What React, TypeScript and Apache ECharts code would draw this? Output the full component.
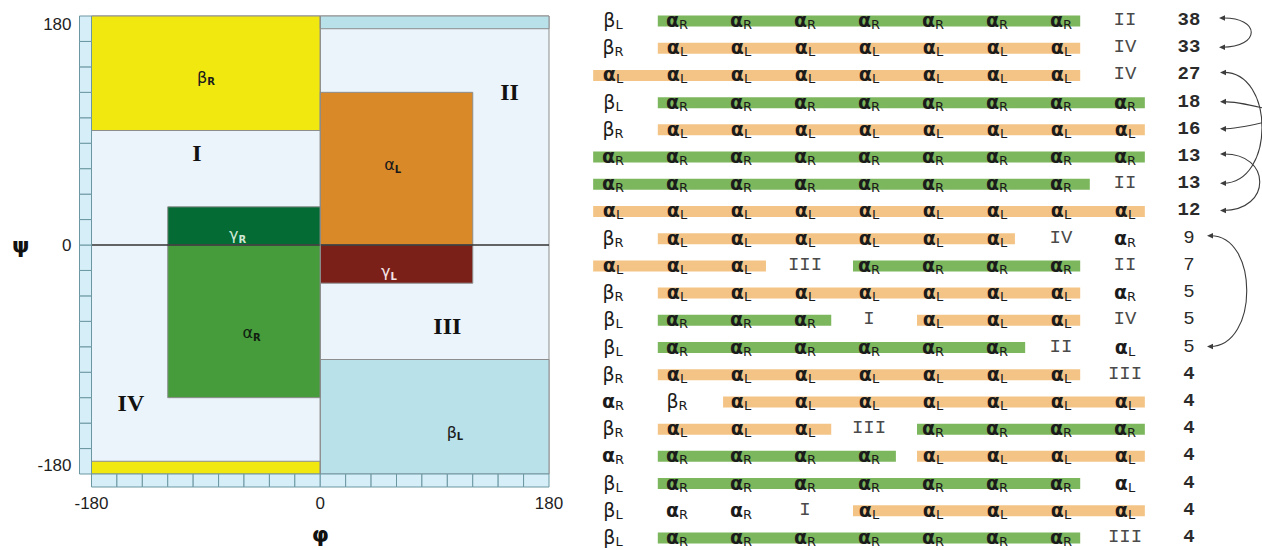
import React, { useEffect, useRef } from "react";
import * as echarts from "echarts";

// ---------------- Left panel: (phi, psi) regions ----------------
const regionNames = ["background", "βR", "βR wrap", "βL wrap", "βL", "αL", "γL", "γR", "αR"];
const regionPhiStart = [-180, -180, -180, 0, 0, 0, 0, -120, -120];
const regionPhiEnd = [180, 0, 0, 180, 180, 120, 120, 0, 0];
const regionPsiStart = [-180, 90, -180, 170, -180, 0, -30, 0, -120];
const regionPsiEnd = [180, 180, -170, 180, -90, 120, 0, 30, 0];

const regionLabels = ["βR", "I", "II", "αL", "γR", "γL", "III", "αR", "IV", "βL"];
const labelPhi = [-90, -97, 149, 57, -65, 54, 100, -54, -149, 106];
const labelPsi = [132, 72, 120, 63, 8, -21, -64, -69, -124, -147];

const axisTicks = [-180, 0, 180];
const rulerStarts = [-180, -160, -140, -120, -100, -80, -60, -40, -20, 0, 20, 40, 60, 80, 100, 120, 140, 160];
const rulerStep = 20;

// ---------------- Right panel: sequences ----------------
const rowCells: string[][] = [
  ["βL", "αR", "αR", "αR", "αR", "αR", "αR", "αR", "II"],
  ["βR", "αL", "αL", "αL", "αL", "αL", "αL", "αL", "IV"],
  ["αL", "αL", "αL", "αL", "αL", "αL", "αL", "αL", "IV"],
  ["βL", "αR", "αR", "αR", "αR", "αR", "αR", "αR", "αR"],
  ["βR", "αL", "αL", "αL", "αL", "αL", "αL", "αL", "αL"],
  ["αR", "αR", "αR", "αR", "αR", "αR", "αR", "αR", "αR"],
  ["αR", "αR", "αR", "αR", "αR", "αR", "αR", "αR", "II"],
  ["αL", "αL", "αL", "αL", "αL", "αL", "αL", "αL", "αL"],
  ["βR", "αL", "αL", "αL", "αL", "αL", "αL", "IV", "αR"],
  ["αL", "αL", "αL", "III", "αR", "αR", "αR", "αR", "II"],
  ["βR", "αL", "αL", "αL", "αL", "αL", "αL", "αL", "αR"],
  ["βL", "αR", "αR", "αR", "I", "αL", "αL", "αL", "IV"],
  ["βL", "αR", "αR", "αR", "αR", "αR", "αR", "II", "αL"],
  ["βR", "αL", "αL", "αL", "αL", "αL", "αL", "αL", "III"],
  ["αR", "βR", "αL", "αL", "αL", "αL", "αL", "αL", "αL"],
  ["βR", "αL", "αL", "αL", "III", "αR", "αR", "αR", "αR"],
  ["αR", "αR", "αR", "αR", "αR", "αL", "αL", "αL", "αL"],
  ["βL", "αR", "αR", "αR", "αR", "αR", "αR", "αR", "αL"],
  ["βL", "αR", "αR", "I", "αL", "αL", "αL", "αL", "αL"],
  ["βL", "αR", "αR", "αR", "αR", "αR", "αR", "αR", "III"],
];
const rowCounts = [38, 33, 27, 18, 16, 13, 13, 12, 9, 7, 5, 5, 5, 4, 4, 4, 4, 4, 4, 4];

// bar segments: row, start column, end column, kind ("αR" green, "αL" orange)
const barRows = [0, 1, 2, 3, 4, 5, 6, 7, 8, 9, 9, 10, 11, 11, 12, 13, 14, 15, 15, 16, 16, 17, 18, 19];
const barStart = [0.7, 0.7, -0.31, 0.7, 0.7, -0.31, -0.31, -0.31, 0.7, -0.31, 3.75, 0.7, 0.7, 4.75, 0.7, 0.7, 1.72, 0.7, 4.75, 0.7, 4.75, 0.7, 3.75, 0.7];
const barEnd = [7.3, 7.3, 7.3, 8.31, 8.31, 8.31, 7.45, 8.31, 6.28, 2.39, 7.3, 7.3, 3.41, 7.3, 6.44, 7.3, 8.31, 3.41, 8.31, 4.42, 8.31, 7.3, 8.31, 7.3];
const barKind = ["αR", "αL", "αL", "αR", "αL", "αR", "αR", "αL", "αL", "αL", "αR", "αL", "αR", "αL", "αR", "αL", "αL", "αL", "αR", "αR", "αL", "αR", "αL", "αR"];

// links between counts (from row, to row)
const linkFrom = [0, 2, 5, 8];
const linkTo = [1, 6, 7, 12];
const outgoingRows = [3, 4];

// ---------------- styles ----------------
const regionColors = ["#eaf4fa", "#f1e80f", "#f1e80f", "#b8e1ea", "#b8e1ea", "#d98928", "#7b1f19", "#046b35", "#469b3b"];
const labelColors = ["#1a1a1a", "#111", "#111", "#1a1a1a", "#cfe8d4", "#f4e6e6", "#111", "#102010", "#111", "#1a1a1a"];
const barColors: Record<string, string> = { "αR": "#7cb65d", "αL": "#f3c486" };
const linkTipOffset = [30, 31, 31, 18];
const linkBulge = [42, 55, 52, 52];
const GREEK = "'DejaVu Sans', sans-serif";
const MONO = "'Liberation Mono', 'DejaVu Sans Mono', monospace";

const isGreek = (t: string) => /^[αβγ]/.test(t);
const greekRich = (t: string) => `{g|${t[0]}}{s|${t.slice(1)}}`;

const cellList: { col: number; row: number; tok: string }[] = [];
rowCells.forEach((cells, r) => {
  cells.forEach((tok, c) => {
    if (tok) cellList.push({ col: c, row: r, tok });
  });
  cellList.push({ col: 9, row: r, tok: String(rowCounts[r]) });
});

function buildOption(): any {
  const hiddenAxis = { show: false };
  return {
    animation: false,
    backgroundColor: "#ffffff",
    grid: [
      { left: 91.5, top: 16, width: 457.5, height: 458, outerBoundsMode: "none", containLabel: false },
      { left: 581, top: 6.4, width: 640, height: 544.2, outerBoundsMode: "none", containLabel: false },
    ],
    xAxis: [
      {
        gridIndex: 0,
        type: "value",
        min: axisTicks[0],
        max: axisTicks[axisTicks.length - 1],
        interval: 180,
        axisLine: { show: false },
        axisTick: { show: false },
        splitLine: { show: false },
        axisLabel: { margin: 21, fontSize: 17, color: "#1e1e1e", fontFamily: "'Liberation Sans', Arial, sans-serif" },
        name: "φ",
        nameLocation: "middle",
        nameGap: 49,
        nameTextStyle: { fontSize: 22, fontWeight: "bold", color: "#111", fontFamily: GREEK },
      },
      { gridIndex: 1, type: "value", min: -0.5, max: 9.5, ...hiddenAxis },
    ],
    yAxis: [
      {
        gridIndex: 0,
        type: "value",
        min: axisTicks[0],
        max: axisTicks[axisTicks.length - 1],
        interval: 180,
        axisLine: { show: false },
        axisTick: { show: false },
        splitLine: { show: false },
        axisLabel: {
          margin: 20,
          fontSize: 17,
          color: "#1e1e1e",
          fontFamily: "'Liberation Sans', Arial, sans-serif",
          verticalAlignMinLabel: "bottom",
          verticalAlignMaxLabel: "top",
        },
        name: "ψ",
        nameLocation: "middle",
        nameRotate: 0,
        nameGap: 62,
        nameTextStyle: { fontSize: 22, fontWeight: "bold", color: "#111", fontFamily: GREEK },
      },
      { gridIndex: 1, type: "value", min: -0.5, max: 19.5, inverse: true, ...hiddenAxis },
    ],
    series: [
      // regions
      {
        type: "custom",
        xAxisIndex: 0,
        yAxisIndex: 0,
        clip: false,
        encode: { x: [0, 1], y: [2, 3] },
        data: regionNames.map((_, i) => [regionPhiStart[i], regionPhiEnd[i], regionPsiStart[i], regionPsiEnd[i]]),
        renderItem: (params: any, api: any) => {
          const i = params.dataIndex;
          const p0 = api.coord([api.value(0), api.value(3)]);
          const p1 = api.coord([api.value(1), api.value(2)]);
          return {
            type: "rect",
            shape: { x: p0[0], y: p0[1], width: p1[0] - p0[0], height: p1[1] - p0[1] },
            style: { fill: regionColors[i], stroke: "#8d8d8d", lineWidth: 1 },
          };
        },
      },
      // zero lines
      {
        type: "custom",
        xAxisIndex: 0,
        yAxisIndex: 0,
        clip: false,
        encode: { x: [0, 2], y: [1, 3] },
        data: [
          [axisTicks[0], 0, axisTicks[2], 0],
          [0, axisTicks[0], 0, axisTicks[2]],
        ],
        renderItem: (params: any, api: any) => {
          const a = api.coord([api.value(0), api.value(1)]);
          const b = api.coord([api.value(2), api.value(3)]);
          const horiz = params.dataIndex === 0;
          return {
            type: "line",
            shape: { x1: a[0], y1: a[1], x2: b[0], y2: b[1] },
            style: { stroke: horiz ? "#333" : "#8a8a8a", lineWidth: horiz ? 1.5 : 1 },
          };
        },
      },
      // ruler cells
      {
        type: "custom",
        xAxisIndex: 0,
        yAxisIndex: 0,
        clip: false,
        encode: { x: 0, y: 1 },
        data: rulerStarts.map((v) => [v, v]),
        renderItem: (params: any, api: any) => {
          const v = api.value(0);
          const a = api.coord([v, v]);
          const b = api.coord([v + rulerStep, v + rulerStep]);
          const cs = params.coordSys;
          const st = { fill: "#d6eef8", stroke: "#6b97a2", lineWidth: 1 };
          return {
            type: "group",
            children: [
              { type: "rect", shape: { x: cs.x - 12, y: b[1], width: 12, height: a[1] - b[1] }, style: st },
              { type: "rect", shape: { x: a[0], y: cs.y + cs.height, width: b[0] - a[0], height: 13 }, style: st },
            ],
          };
        },
      },
      // region labels
      {
        type: "custom",
        xAxisIndex: 0,
        yAxisIndex: 0,
        clip: false,
        encode: { x: 0, y: 1 },
        data: regionLabels.map((_, i) => [labelPhi[i], labelPsi[i]]),
        renderItem: (params: any, api: any) => {
          const i = params.dataIndex;
          const t = regionLabels[i];
          const p = api.coord([api.value(0), api.value(1)]);
          const col = labelColors[i];
          if (isGreek(t)) {
            return {
              type: "text",
              x: p[0],
              y: p[1],
              style: {
                text: greekRich(t),
                align: "center",
                verticalAlign: "middle",
                rich: {
                  g: { fontSize: 16, fontFamily: GREEK, fill: col, lineHeight: 20 },
                  s: { fontSize: 10, fontFamily: GREEK, fontWeight: "bold", fill: col, padding: [9, 0, 0, 0], lineHeight: 10 },
                },
              },
            };
          }
          return {
            type: "text",
            x: p[0],
            y: p[1],
            style: {
              text: t,
              align: "center",
              verticalAlign: "middle",
              fontSize: 24,
              fontWeight: "bold",
              fontFamily: "'Liberation Serif', 'DejaVu Serif', serif",
              fill: col,
            },
          };
        },
      },
      // bars
      {
        type: "custom",
        xAxisIndex: 1,
        yAxisIndex: 1,
        clip: false,
        encode: { x: [0, 1], y: 2 },
        data: barRows.map((r, i) => [barStart[i], barEnd[i], r]),
        renderItem: (params: any, api: any) => {
          const i = params.dataIndex;
          const a = api.coord([api.value(0), api.value(2)]);
          const b = api.coord([api.value(1), api.value(2)]);
          return {
            type: "rect",
            shape: { x: a[0], y: a[1] - 4.5, width: b[0] - a[0], height: 11 },
            style: { fill: barColors[barKind[i]] },
          };
        },
      },
      // cell texts
      {
        type: "custom",
        xAxisIndex: 1,
        yAxisIndex: 1,
        clip: false,
        encode: { x: 0, y: 1 },
        data: cellList.map((c) => [c.col, c.row]),
        renderItem: (params: any, api: any) => {
          const c = cellList[params.dataIndex];
          const p = api.coord([api.value(0), api.value(1)]);
          if (isGreek(c.tok)) {
            return {
              type: "text",
              x: p[0],
              y: p[1],
              style: {
                text: greekRich(c.tok),
                align: "center",
                verticalAlign: "middle",
                rich: {
                  g: { fontSize: 19, fontFamily: GREEK, fill: "#1b1b1b", lineHeight: 22, fontWeight: c.tok[0] === "α" ? "bold" : "normal" },
                  s: { fontSize: 13, fontFamily: GREEK, fill: "#1b1b1b", padding: [9, 0, 0, 0], lineHeight: 13 },
                },
              },
            };
          }
          const isCount = c.col === 9;
          return {
            type: "text",
            x: p[0],
            y: p[1],
            style: {
              text: c.tok,
              align: "center",
              verticalAlign: "middle",
              fontSize: 19,
              fontFamily: MONO,
              fontWeight: isCount && (c.row < 8 || c.row > 12) ? "bold" : "normal",
              fill: isCount ? "#2a2a2a" : "#4a4a4a",
            },
          };
        },
      },
      // links between counts
      {
        type: "custom",
        xAxisIndex: 1,
        yAxisIndex: 1,
        clip: false,
        encode: { x: 0, y: [1, 2] },
        data: linkFrom.map((f, i) => [9, f, linkTo[i]]),
        renderItem: (params: any, api: any) => {
          const i = params.dataIndex;
          const a = api.coord([api.value(0), api.value(1)]);
          const b = api.coord([api.value(0), api.value(2)]);
          const x = a[0] + linkTipOffset[i];
          const d = linkBulge[i];
          const st = { stroke: "#3c3c3c", lineWidth: 1.1, fill: null };
          const head = (y: number) => ({
            type: "polygon",
            shape: { points: [[x, y], [x + 6, y - 2.8], [x + 6, y + 2.8]] },
            style: { fill: "#3c3c3c" },
          });
          return {
            type: "group",
            children: [
              {
                type: "bezierCurve",
                shape: { x1: x + 3, y1: a[1] - 2, cpx1: x + d, cpy1: a[1] - 3, cpx2: x + d, cpy2: b[1], x2: x + 3, y2: b[1] },
                style: st,
              },
              head(a[1] - 2),
              head(b[1]),
            ],
          };
        },
      },
      // links leaving to the right
      {
        type: "custom",
        xAxisIndex: 1,
        yAxisIndex: 1,
        clip: false,
        encode: { x: 0, y: 1 },
        data: outgoingRows.map((r) => [9, r]),
        renderItem: (params: any, api: any) => {
          const a = api.coord([api.value(0), api.value(1)]);
          const m = api.coord([10.7, (outgoingRows[0] + outgoingRows[1]) / 2]);
          const x = a[0] + 31;
          return {
            type: "group",
            children: [
              {
                type: "bezierCurve",
                shape: { x1: x + 3, y1: a[1], cpx1: x + 25, cpy1: a[1], cpx2: x + 45, cpy2: m[1] + (a[1] - m[1]) * 0.4, x2: m[0], y2: m[1] },
                style: { stroke: "#3c3c3c", lineWidth: 1.1, fill: null },
              },
              {
                type: "polygon",
                shape: { points: [[x, a[1]], [x + 6, a[1] - 2.8], [x + 6, a[1] + 2.8]] },
                style: { fill: "#3c3c3c" },
              },
            ],
          };
        },
      },
    ],
  };
}

export default function App() {
  const ref = useRef<HTMLDivElement>(null);
  useEffect(() => {
    document.body.style.margin = "0";
    const chart = echarts.init(ref.current!, undefined, { renderer: "svg" });
    chart.setOption(buildOption());
    return () => chart.dispose();
  }, []);
  return <div ref={ref} style={{ width: 1262, height: 550 }} />;
}
